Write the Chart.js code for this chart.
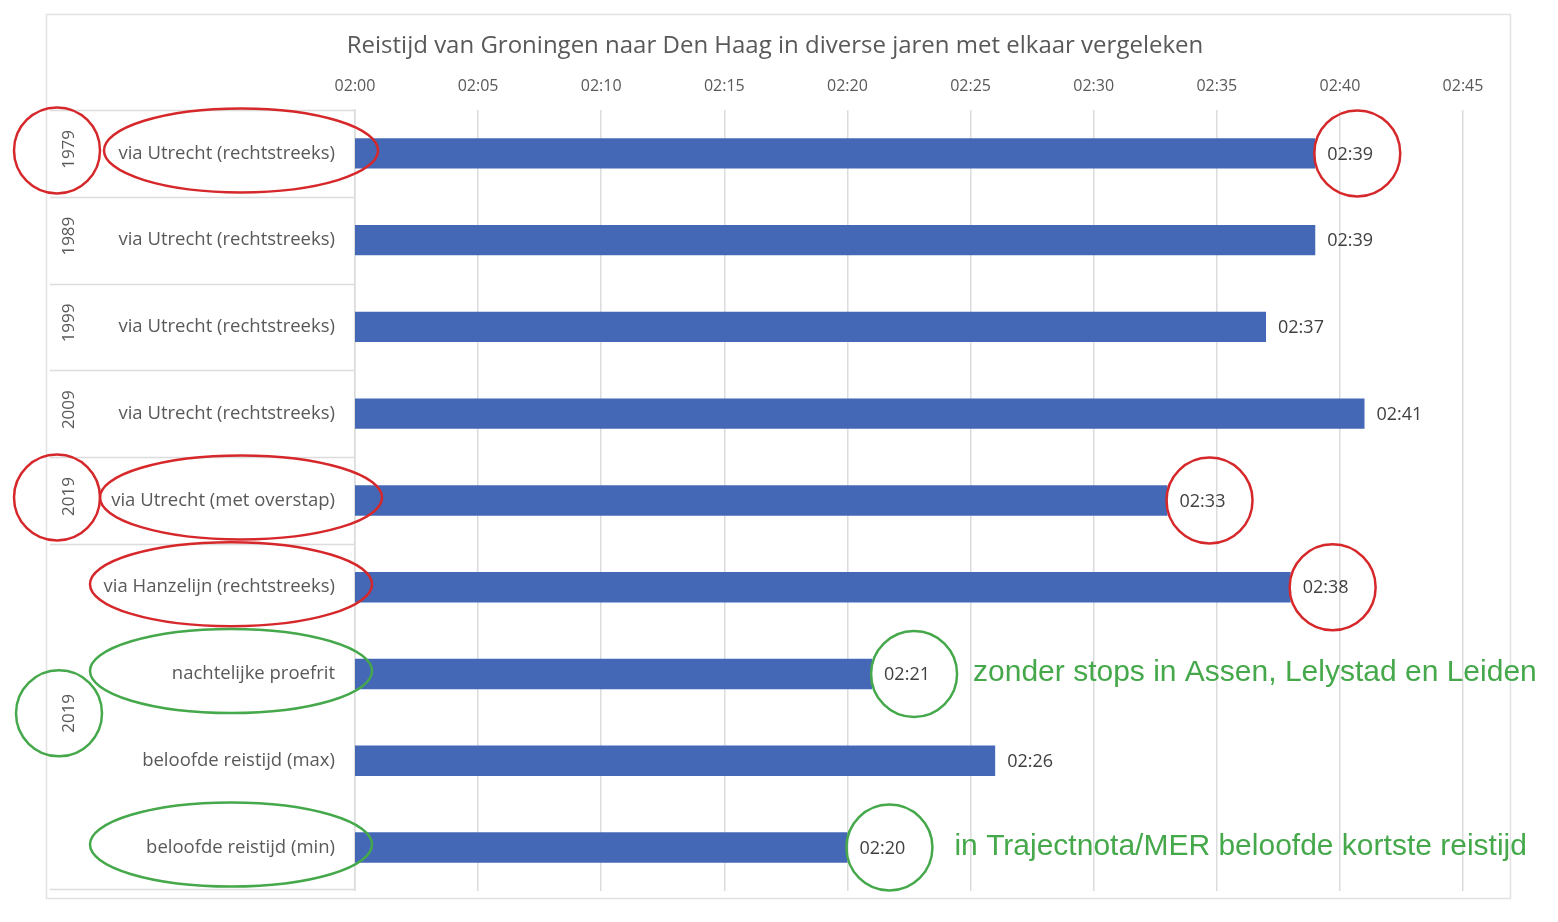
<!DOCTYPE html>
<html lang="nl">
<head>
<meta charset="utf-8">
<title>Reistijd Groningen - Den Haag</title>
<script src="https://cdn.jsdelivr.net/npm/chart.js@4.4.0/dist/chart.umd.min.js"></script>
<style>
    html, body { margin: 0; padding: 0; background: #fff; }
    #wrap { position: relative; width: 1558px; height: 922px; }
</style>
</head>
<body>
<div id="wrap"><canvas id="reistijdChart" width="1558" height="922"></canvas></div>
<script>
const titel = 'Reistijd van Groningen naar Den Haag in diverse jaren met elkaar vergeleken';
const categorieen = [
    'via Utrecht (rechtstreeks)',
    'via Utrecht (rechtstreeks)',
    'via Utrecht (rechtstreeks)',
    'via Utrecht (rechtstreeks)',
    'via Utrecht (met overstap)',
    'via Hanzelijn (rechtstreeks)',
    'nachtelijke proefrit',
    'beloofde reistijd (max)',
    'beloofde reistijd (min)'
];
const reistijden = ['02:39', '02:39', '02:37', '02:41', '02:33', '02:38', '02:21', '02:26', '02:20'];

// jaartallen in de linker kolom en de rij waarbij ze horen
const jaren = ['1979', '1989', '1999', '2009', '2019', '2019'];
const jaarRij = [0, 1, 2, 3, 4, 6.5];

// as van 02:00 tot 02:45 in stappen van 5 minuten
const asBegin = '02:00';
const asEinde = '02:45';
const asStap = 5;

// rood = rechtstreekse treinen, groen = 2019 proefrit / belofte
const rood = '#D6282B';
const groen = '#45A84B';
const rodeRijen = [0, 4, 5];
const groeneRijen = [6, 8];
const rodeJaren = [0, 4];
const groeneJaren = [5];
const opmerkingen = [
    { rij: 6, tekst: 'zonder stops in Assen, Lelystad en Leiden' },
    { rij: 8, tekst: 'in Trajectnota/MER beloofde kortste reistijd' }
];

const naarMinuten = t => { const [u, m] = t.split(':').map(Number); return u * 60 + m; };
const alsTijd = v => String(Math.floor(v / 60)).padStart(2, '0') + ':' + String(v % 60).padStart(2, '0');
const minuten = reistijden.map(naarMinuten);

const grijs = '#595959';
const letter = '"Open Sans", sans-serif';

function ellips(ctx, cx, cy, rx, ry, kleur) {
    ctx.beginPath();
    ctx.ellipse(cx, cy, rx, ry, 0, 0, Math.PI * 2);
    ctx.strokeStyle = kleur;
    ctx.lineWidth = 2.5;
    ctx.stroke();
}

const extraTekening = {
    id: 'extraTekening',
    afterDatasetsDraw(chart) {
        const { ctx, scales: { x, y } } = chart;
        ctx.save();
        ctx.font = '18px ' + letter;
        ctx.fillStyle = '#404040';
        ctx.textBaseline = 'middle';
        minuten.forEach((v, i) => {
            ctx.fillText(reistijden[i], x.getPixelForValue(v) + 12, y.getPixelForValue(i) + 1);
        });
        ctx.restore();
    },
    afterDraw(chart) {
        const { ctx, scales: { x, y } } = chart;
        const half = (y.getPixelForValue(1) - y.getPixelForValue(0)) / 2;
        const links = chart.chartArea.left;
        ctx.save();

        // titel boven de as
        ctx.font = '24px ' + letter;
        ctx.fillStyle = grijs;
        ctx.textAlign = 'center';
        ctx.textBaseline = 'middle';
        ctx.fillText(titel, 775, 46);

        // kader rond de grafiek
        ctx.strokeStyle = '#e2e2e2';
        ctx.lineWidth = 1.5;
        ctx.strokeRect(46.5, 14.5, 1464, 884);

        // scheidingslijnen van de jaarkolom
        ctx.strokeStyle = '#dcdcdc';
        ctx.lineWidth = 1.5;
        [0, 1, 2, 3, 4, 5].forEach(i => {
            const yy = Math.round(y.getPixelForValue(i) - half) + 0.5;
            ctx.beginPath();
            ctx.moveTo(50, yy);
            ctx.lineTo(links, yy);
            ctx.stroke();
        });
        const onder = Math.round(y.getPixelForValue(categorieen.length - 1) + half) - 1.5;
        ctx.beginPath();
        ctx.moveTo(50, onder);
        ctx.lineTo(links, onder);
        ctx.stroke();

        // jaartallen, gedraaid
        ctx.font = '17px ' + letter;
        ctx.fillStyle = grijs;
        ctx.textAlign = 'center';
        ctx.textBaseline = 'middle';
        jaren.forEach((j, i) => {
            const yy = y.getPixelForValue(jaarRij[i]) - 4;
            ctx.save();
            ctx.translate(69, yy);
            ctx.rotate(-Math.PI / 2);
            ctx.fillText(j, 0, 0);
            ctx.restore();
        });

        // ellipsen om labels, jaartallen en waarden
        const markeer = (rij, kleur) => {
            const yy = y.getPixelForValue(rij) - 3;
            ellips(ctx, rij === 0 || rij === 4 ? 241 : 231, yy, rij === 0 ? 137 : 141, 42, kleur);
            ellips(ctx, x.getPixelForValue(minuten[rij]) + 42, y.getPixelForValue(rij), 43, 43, kleur);
        };
        rodeRijen.forEach(r => markeer(r, rood));
        groeneRijen.forEach(r => markeer(r, groen));
        rodeJaren.forEach(i => ellips(ctx, 57, y.getPixelForValue(jaarRij[i]) - 3, 43, 43, rood));
        groeneJaren.forEach(i => ellips(ctx, 59, y.getPixelForValue(jaarRij[i]) - 4, 43, 43, groen));

        // toelichting in groen
        ctx.font = '30px "Liberation Sans", Arial, sans-serif';
        ctx.fillStyle = groen;
        ctx.textAlign = 'left';
        opmerkingen.forEach((o, k) => {
            ctx.fillText(o.tekst, x.getPixelForValue(minuten[o.rij]) + 101 + k * 6, y.getPixelForValue(o.rij) - 1);
        });
        ctx.restore();
    }
};

new Chart(document.getElementById('reistijdChart'), {
    type: 'bar',
    data: {
        labels: categorieen,
        datasets: [{
            label: 'Reistijd',
            data: minuten,
            backgroundColor: '#4468B6',
            categoryPercentage: 1,
            barPercentage: 0.35
        }]
    },
    options: {
        indexAxis: 'y',
        responsive: false,
        animation: false,
        devicePixelRatio: 1,
        layout: { padding: { left: 0, right: 95, top: 68.6, bottom: 27 } },
        plugins: {
            legend: { display: false },
            tooltip: { enabled: false },
            title: { display: false }
        },
        scales: {
            x: {
                position: 'top',
                min: naarMinuten(asBegin),
                max: naarMinuten(asEinde),
                afterFit: s => { s.height = 41.4; },
                ticks: {
                    stepSize: asStap,
                    padding: 14,
                    color: grijs,
                    font: { family: letter, size: 16 },
                    callback: v => alsTijd(v)
                },
                grid: { color: '#dcdcdc', lineWidth: 1.5, drawTicks: false },
                border: { display: false }
            },
            y: {
                afterFit: s => { s.width = 355; },
                ticks: {
                    padding: 20,
                    color: grijs,
                    font: { family: letter, size: 18.5 }
                },
                grid: { display: false, drawTicks: false },
                border: { color: '#dcdcdc', width: 1.5 }
            }
        }
    },
    plugins: [extraTekening]
});
</script>
</body>
</html>
